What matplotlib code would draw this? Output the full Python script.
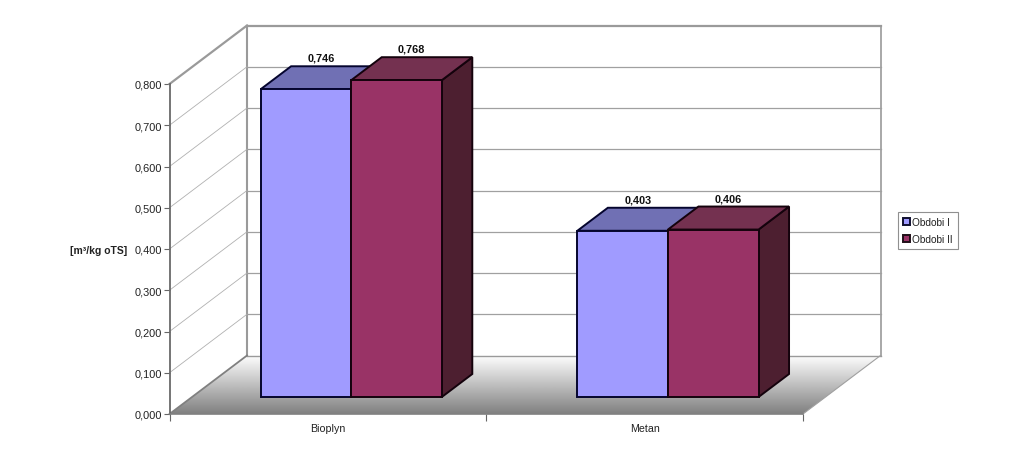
import numpy as np
import matplotlib
matplotlib.use("Agg")
import matplotlib.pyplot as plt
from matplotlib.patches import Polygon, Patch

plt.rcParams['font.family'] = ['Liberation Sans', 'DejaVu Sans']

categories = ["Bioplyn", "Metan"]
series_names = ["Obdobi I", "Obdobi II"]
obdobi_1 = [0.746, 0.403]
obdobi_2 = [0.768, 0.406]
y_ticks = [0.0, 0.1, 0.2, 0.3, 0.4, 0.5, 0.6, 0.7, 0.8]

W, H = 1023, 477
fig = plt.figure(figsize=(W / 100, H / 100), dpi=100)
fig.patch.set_facecolor('white')
# axes frame = front plane of the 3D box
L, R, B, T = 169.5, 803, 415, 85
ax = fig.add_axes([L / W, 1 - B / H, (R - L) / W, (B - T) / H])
ax.set_xlim(0, 2)
ax.set_ylim(0, 0.8)
ax.patch.set_visible(False)

# oblique projection: full depth shifts by these amounts in data units
PX_X = (R - L) / 2
PX_Y = (B - T) / 0.8
DEPTH_Y = 58.5
DX = 77.5 / PX_X
DY = DEPTH_Y / PX_Y
YMAX = y_ticks[-1]


def pr(x, y, d=0.0):
    return (x + d * DX, y + d * DY)


# floor gradient
floor = Polygon([pr(0, 0), pr(2, 0), pr(2, 0, 1), pr(0, 0, 1)], closed=True,
                facecolor='none', edgecolor='none', zorder=1)
ax.add_patch(floor)
grad = np.linspace(0.50, 1.0, 128).reshape(-1, 1)
im = ax.imshow(grad, cmap='gray', vmin=0, vmax=1, origin='lower', aspect='auto',
               extent=(0, 2 + DX, 0, DY), zorder=1, interpolation='bilinear')
im.set_clip_path(floor)
im.set_clip_box(fig.bbox)
ax.set_xlim(0, 2)
ax.set_ylim(0, 0.8)

wall = '#9a9a9a'
grid = '#a0a0a0'
kw = dict(clip_on=False, solid_capstyle='projecting')


def seg(p, q, color, lw, z=2):
    ax.plot([p[0], q[0]], [p[1], q[1]], color=color, lw=lw, zorder=z, **kw)


# back wall frame
seg(pr(0, YMAX, 1), pr(2, YMAX, 1), wall, 1.6)
seg(pr(2, YMAX, 1), pr(2, 0, 1), wall, 1.2)
seg(pr(2, 0, 1), pr(0, 0, 1), wall, 1.0)
seg(pr(0, 0, 1), pr(0, YMAX, 1), wall, 1.5)
# side wall top + floor edges
seg(pr(0, YMAX), pr(0, YMAX, 1), wall, 1.6)
seg(pr(0, 0), pr(0, 0, 1), '#808080', 1.3)
seg(pr(2, 0), pr(2, 0, 1), '#a0a0a0', 0.8)
# gridlines on side and back walls
for v in y_ticks[1:-1]:
    seg(pr(0, v), pr(0, v, 1), '#b0b0b0', 0.6)
    seg(pr(0, v, 1), pr(2, v, 1), grid, 0.9)

# bars
BAR_W = 90.6 / PX_X
BAR_OFF = 68.6 / PX_X
D0, D1 = 17 / DEPTH_Y, 40 / DEPTH_Y
styles = [
    dict(front='#A09BFF', top='#7070B4', side='#4A4A80', edge='#05052E'),
    dict(front='#993366', top='#743150', side='#4D1F30', edge='#14020C'),
]
for i, vals in enumerate(zip(obdobi_1, obdobi_2)):
    for j, v in enumerate(vals):
        s = styles[j]
        x0 = i + BAR_OFF + j * BAR_W
        x1 = x0 + BAR_W
        z = 5 + j
        ec = dict(edgecolor=s['edge'], linewidth=1.4, joinstyle='miter', clip_on=False, zorder=z)
        ax.add_patch(Polygon([pr(x1, 0, D0), pr(x1, 0, D1), pr(x1, v, D1), pr(x1, v, D0)],
                             facecolor=s['side'], **ec))
        ax.add_patch(Polygon([pr(x0, v, D0), pr(x1, v, D0), pr(x1, v, D1), pr(x0, v, D1)],
                             facecolor=s['top'], **ec))
        ax.add_patch(Polygon([pr(x0, 0, D0), pr(x1, 0, D0), pr(x1, v, D0), pr(x0, v, D0)],
                             facecolor=s['front'], **ec))
        cx = pr((x0 + x1) / 2, v, (D0 + D1) / 2)[0]
        ty = pr(x0, v, D1)[1]
        ax.annotate(f"{v:.3f}".replace('.', ','), (cx, ty), xytext=(0, 2.5),
                    textcoords='offset points', ha='center', va='bottom', fontsize=7.8,
                    fontweight='bold', color='#111111', annotation_clip=False, zorder=10)

# axes
for side in ('top', 'right'):
    ax.spines[side].set_visible(False)
ax.spines['left'].set_color('#6a6a6a')
ax.spines['left'].set_linewidth(1.3)
ax.spines['bottom'].set_color('#808080')
ax.spines['bottom'].set_linewidth(1.2)
ax.set_yticks(y_ticks)
ax.set_yticklabels([f"{v:.3f}".replace('.', ',') for v in y_ticks], fontsize=7.9, color='#222222')
ax.tick_params(axis='y', length=4, width=0.8, color='#666666', pad=1.5)
ax.set_xticks([0, 1, 2])
ax.set_xticklabels([])
ax.tick_params(axis='x', length=5, width=0.8, color='#666666')
for i, c in enumerate(categories):
    ax.annotate(c, (i + 0.5, 0), xytext=(0, -10), textcoords='offset points', ha='center',
                va='center', fontsize=7.7, color='#222222', annotation_clip=False)

fig.text(99 / W, 1 - 251 / H, "[m\u00b3/kg oTS]", ha='center', va='center', fontsize=7.5,
         fontweight='bold', color='#222222')

handles = [Patch(facecolor=styles[k]['front'], edgecolor='#101030' if k == 0 else '#201018',
                 linewidth=1.4, label=series_names[k]) for k in range(2)]
leg = fig.legend(handles=handles, loc='upper left',
                 bbox_to_anchor=(897.5 / W, 1 - 213 / H), fontsize=7.3, frameon=True, fancybox=False,
                 edgecolor='#909090', framealpha=1, borderpad=0.5, labelspacing=0.7,
                 handlelength=0.7, handleheight=0.7, handletextpad=0.25, borderaxespad=0)
leg.get_frame().set_linewidth(0.8)
for t in leg.get_texts():
    t.set_color('#222222')

fig.savefig('out.png', dpi=100, facecolor='white')
